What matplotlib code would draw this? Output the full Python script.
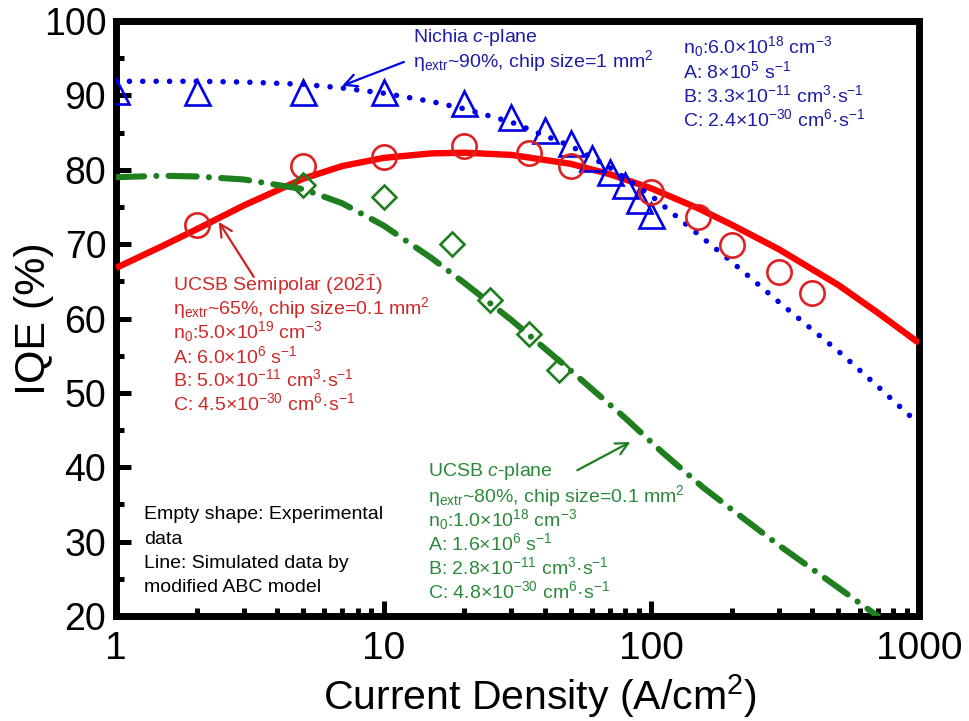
"""IQE vs current density: Nichia c-plane, UCSB semipolar and UCSB c-plane LEDs."""
import matplotlib
matplotlib.use("Agg")
import matplotlib.pyplot as plt

plt.rcParams["font.family"] = ["Liberation Sans", "DejaVu Sans"]
plt.rcParams["mathtext.fontset"] = "custom"
plt.rcParams["mathtext.rm"] = "Liberation Sans"
plt.rcParams["mathtext.it"] = "Liberation Sans:italic"
plt.rcParams["mathtext.bf"] = "Liberation Sans:bold"

# ---- experimental data (empty markers) ----
nichia_j = [1, 2, 5, 10, 20, 30, 40, 50, 60, 70, 80, 90, 100]
nichia_iqe = [90.6, 90.5, 90.5, 90.4, 89.0, 87.1, 85.3, 83.6, 81.6, 79.7, 77.9, 75.9, 73.9]

semi_j = [2, 5, 10, 20, 35, 50, 100, 150, 200, 300, 400]
semi_iqe = [72.6, 80.5, 81.7, 83.2, 82.2, 80.5, 77.0, 73.6, 69.9, 66.2, 63.5]

cpl_j = [5, 10, 18, 25, 35, 45]
cpl_iqe = [77.9, 76.3, 70.0, 62.5, 57.9, 53.1]

# ---- simulated (modified ABC model) ----
nichia_sim_j = [1, 2, 3, 5, 7, 10, 15, 20, 30, 50, 70, 100, 150, 200, 300, 500, 700, 1000]
nichia_sim_iqe = [91.9, 91.9, 91.8, 91.5, 91.0, 90.3, 89.2, 88.2, 86.4, 83.2, 80.3, 76.5,
                  71.3, 67.6, 62.2, 55.6, 50.9, 45.8]

semi_sim_j = [1, 1.5, 2, 3, 5, 7, 10, 15, 20, 30, 50, 70, 100, 150, 200, 300, 500, 700, 1000]
semi_sim_iqe = [66.8, 69.8, 72.0, 75.2, 78.8, 80.5, 81.6, 82.2, 82.3, 82.0, 80.8, 79.4,
                77.5, 74.8, 72.6, 69.3, 64.5, 60.8, 56.7]

cpl_sim_j = [1, 1.5, 2, 3, 5, 7, 10, 15, 20, 30, 50, 80, 110, 156, 200, 300, 500, 700]
cpl_sim_iqe = [79.0, 79.2, 79.1, 78.7, 77.4, 75.5, 72.5, 68.2, 64.8, 59.8, 53.0, 46.6,
               42.0, 37.3, 34.3, 29.5, 23.8, 20.0]

BLUE = "#0000e6"
BLUE_TXT = "#1c1ca8"
RED = "#ff0000"
RED_MK = "#dd2222"
RED_TXT = "#d02828"
GREEN = "#1f7f1f"
GREEN_TXT = "#2b8a3a"

fig = plt.figure(figsize=(9.69, 7.21), dpi=100)
ax = fig.add_axes([0.1197, 0.1456, 0.8287, 0.8252])

ax.plot(semi_sim_j, semi_sim_iqe, color=RED, lw=4.6, solid_capstyle="butt", zorder=3)
ax.plot(nichia_sim_j, nichia_sim_iqe, color=BLUE, lw=4.0, dashes=(0.01, 2.4),
        dash_capstyle="round", zorder=3)
ax.plot(cpl_sim_j, cpl_sim_iqe, color=GREEN, lw=4.4, dashes=(4.6, 2.0, 0.01, 2.0),
        dash_capstyle="round", zorder=3)

ax.plot(nichia_j, nichia_iqe, ls="none", marker="^", ms=18, mfc="none", mec=BLUE,
        mew=1.9, zorder=5)
ax.plot(semi_j, semi_iqe, ls="none", marker="o", ms=17.5, mfc="none", mec=RED_MK,
        mew=1.9, zorder=5)
ax.plot(cpl_j, cpl_iqe, ls="none", marker="D", ms=12.5, mfc="none", mec=GREEN,
        mew=1.9, zorder=5)

ax.set_xscale("log")
ax.set_xlim(1, 1000)
ax.set_ylim(20, 100)
ax.set_xticks([1, 10, 100, 1000])
ax.set_xticklabels(["1", "10", "100", "1000"])
ax.set_yticks(range(20, 101, 10))
ax.set_yticks(range(25, 100, 10), minor=True)

for s in ax.spines.values():
    s.set_linewidth(5)
ax.tick_params(which="both", direction="in", top=False, right=False, width=3.6)
ax.tick_params(which="major", length=11)
ax.tick_params(which="minor", length=6)
ax.tick_params(axis="x", which="major", pad=11, labelsize=28)
ax.tick_params(axis="y", which="major", pad=7, labelsize=27)

ax.set_xlabel("Current Density (A/cm$^2$)", fontsize=29.5)
ax.xaxis.set_label_coords(0.528, -0.095)
ax.set_ylabel("IQE (%)", fontsize=31)
ax.yaxis.set_label_coords(-0.077, 0.5)

fs = 14

# Nichia block
ax.text(12.9, 97.8, "Nichia $c$-plane", color=BLUE_TXT, fontsize=fs, va="center")
ax.text(12.9, 94.6, r"η$_{\mathrm{extr}}$~90%, chip size=1 mm$^2$", color=BLUE_TXT,
        fontsize=fs, va="center")
nichia_par = [r"n$_0$:6.0×10$^{18}$ cm$^{-3}$", r"A: 8×10$^5$ s$^{-1}$",
              r"B: 3.3×10$^{-11}$ cm$^3$·s$^{-1}$", r"C: 2.4×10$^{-30}$ cm$^6$·s$^{-1}$"]
for i, s in enumerate(nichia_par):
    ax.text(131.5, 96.6 - 3.27 * i, s, color=BLUE_TXT, fontsize=fs, va="center")
ax.annotate("", xy=(7.0, 91.3), xytext=(11.9, 94.5),
            arrowprops=dict(arrowstyle="->", color=BLUE, lw=1.6,
                            mutation_scale=22, shrinkA=0, shrinkB=0))

# UCSB semipolar block
semi_txt = [r"UCSB Semipolar (20$\bar{2}\bar{1}$)",
            r"η$_{\mathrm{extr}}$~65%, chip size=0.1 mm$^2$",
            r"n$_0$:5.0×10$^{19}$ cm$^{-3}$", r"A: 6.0×10$^6$ s$^{-1}$",
            r"B: 5.0×10$^{-11}$ cm$^3$·s$^{-1}$", r"C: 4.5×10$^{-30}$ cm$^6$·s$^{-1}$"]
for i, s in enumerate(semi_txt):
    ax.text(1.63, 64.6 - 3.2 * i, s, color=RED_TXT, fontsize=fs, va="center")
ax.annotate("", xy=(2.42, 73.0), xytext=(3.27, 65.6),
            arrowprops=dict(arrowstyle="->", color="#cc2020", lw=1.6,
                            mutation_scale=22, shrinkA=0, shrinkB=0))

# UCSB c-plane block
cpl_txt = [r"UCSB $c$-plane", r"η$_{\mathrm{extr}}$~80%, chip size=0.1 mm$^2$",
           r"n$_0$:1.0×10$^{18}$ cm$^{-3}$", r"A: 1.6×10$^6$ s$^{-1}$",
           r"B: 2.8×10$^{-11}$ cm$^3$·s$^{-1}$", r"C: 4.8×10$^{-30}$ cm$^6$·s$^{-1}$"]
for i, s in enumerate(cpl_txt):
    ax.text(14.7, 39.4 - 3.22 * i, s, color=GREEN_TXT, fontsize=fs, va="center")
ax.annotate("", xy=(83.5, 43.4), xytext=(52.9, 39.6),
            arrowprops=dict(arrowstyle="->", color=GREEN, lw=1.6,
                            mutation_scale=22, shrinkA=0, shrinkB=0))

# note
note = ["Empty shape: Experimental", "data", "Line: Simulated data by",
        "modified ABC model"]
for i, s in enumerate(note):
    ax.text(1.27, 33.6 - 3.27 * i, s, color="black", fontsize=fs, va="center")

fig.savefig("out.png", dpi=100)
